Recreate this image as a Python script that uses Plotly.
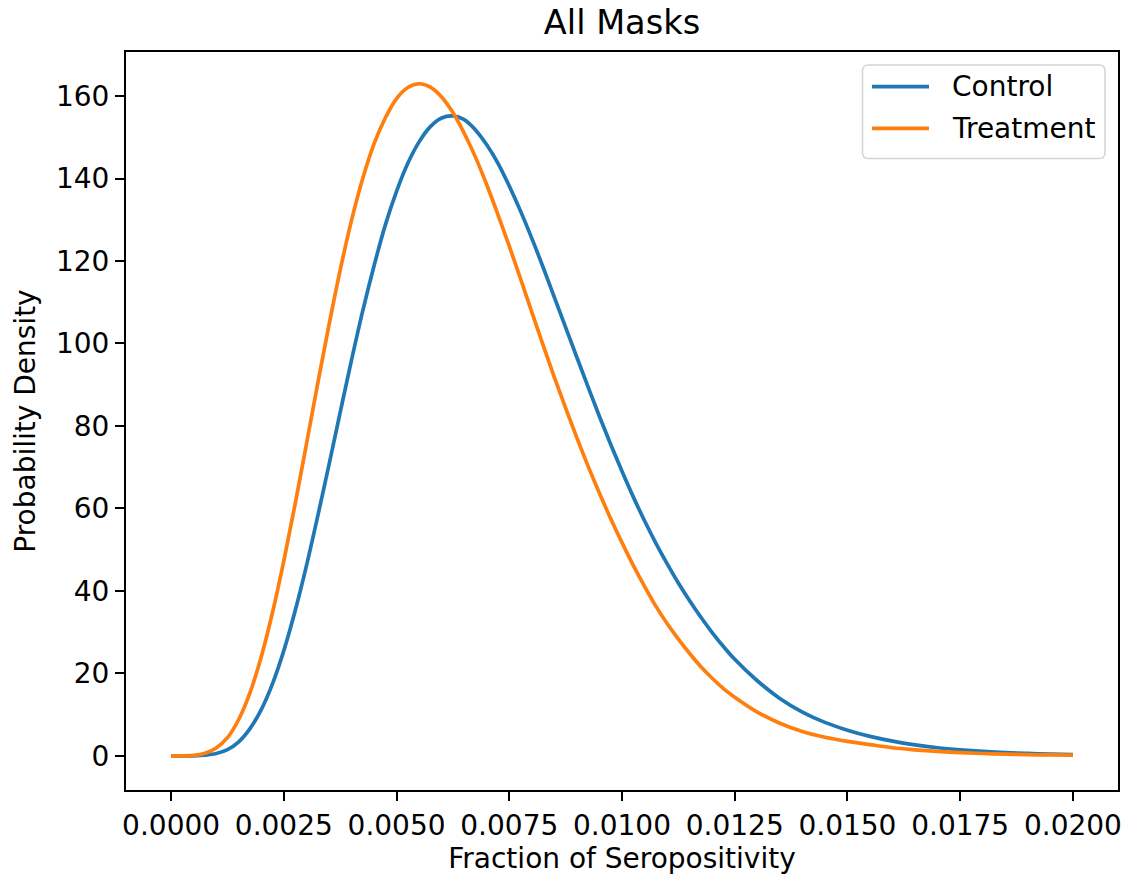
import plotly.graph_objects as go

# Fraction of seropositivity: fine steps through the bulk, coarser in the tail
fraction = [
    0.0, 0.0005, 0.00075, 0.001, 0.00125, 0.0015, 0.00175, 0.002, 0.00225,
    0.0025, 0.00275, 0.003, 0.00325, 0.0035, 0.00375, 0.004, 0.00425,
    0.0045, 0.00475, 0.005, 0.00525, 0.0055, 0.00575, 0.006, 0.00625,
    0.0065, 0.00675, 0.007, 0.00725, 0.0075, 0.00775, 0.008, 0.00825,
    0.0085, 0.00875, 0.009, 0.00925, 0.0095, 0.00975, 0.01, 0.01025,
    0.0105, 0.01075, 0.011, 0.01125, 0.0115, 0.01175, 0.012, 0.01225,
    0.0125, 0.013, 0.0135, 0.014, 0.0145, 0.015, 0.0155, 0.016, 0.0165,
    0.017, 0.0175, 0.018, 0.0185, 0.019, 0.0195, 0.02,
]

# Posterior probability density, control arm
control_density = [
    0.0, 0.0, 0.15, 0.55, 1.5, 3.4, 6.6, 11.2, 17.5,
    25.5, 35.1, 46.0, 58.0, 70.5, 83.3, 95.9, 107.9,
    118.8, 128.7, 136.9, 143.7, 148.9, 152.6, 154.7, 155.2,
    154.3, 151.8, 148.2, 143.7, 138.2, 132.1, 125.5, 118.5,
    111.2, 103.9, 96.6, 89.4, 82.3, 75.5, 69.0, 62.8,
    57.0, 51.6, 46.6, 41.9, 37.6, 33.6, 29.9, 26.5,
    23.4, 18.2, 13.9, 10.6, 8.1, 6.2, 4.7, 3.55, 2.65,
    1.95, 1.45, 1.07, 0.78, 0.57, 0.42, 0.3,
]

# Posterior probability density, treatment arm
treatment_density = [
    0.0, 0.1, 0.6, 1.9, 4.4, 8.8, 15.3, 24.0, 34.8,
    47.3, 61.0, 75.5, 90.2, 104.4, 117.8, 129.8, 140.0,
    148.4, 154.7, 159.4, 162.1, 163.0, 162.2, 159.8, 156.0,
    151.0, 145.2, 138.5, 131.2, 123.6, 115.7, 107.6, 99.6,
    91.8, 84.3, 77.1, 70.2, 63.7, 57.5, 51.7, 46.2,
    41.1, 36.3, 32.1, 28.3, 24.8, 21.6, 18.8, 16.3,
    14.2, 10.6, 7.9, 5.9, 4.5, 3.5, 2.7, 1.95, 1.45,
    1.05, 0.75, 0.55, 0.4, 0.28, 0.2, 0.14,
]

series_names = ["Control", "Treatment"]
series_colors = ["#1f77b4", "#ff7f0e"]

x_tick_vals = [0.0, 0.0025, 0.005, 0.0075, 0.01, 0.0125, 0.015, 0.0175, 0.02]
x_tick_text = ["0.0000", "0.0025", "0.0050", "0.0075", "0.0100",
               "0.0125", "0.0150", "0.0175", "0.0200"]
y_tick_vals = [0, 20, 40, 60, 80, 100, 120, 140, 160]

# Page and plot-area geometry (pixels)
W, H = 1125, 878
ML, MR, MT, MB = 126, 7, 52, 88
FONT = "DejaVu Sans"
TXT = 28


def px_x(px):
    return (px - ML) / (W - ML - MR)


def px_y(py):
    return (H - MB - py) / (H - MT - MB)


fig = go.Figure()
for name, color, ys in zip(series_names, series_colors,
                           [control_density, treatment_density]):
    fig.add_trace(go.Scatter(
        x=fraction, y=ys, mode="lines", name=name,
        line=dict(color=color, width=3.7, shape="spline", smoothing=1.0),
        showlegend=False,
    ))

axis_common = dict(
    showline=True, linecolor="black", linewidth=2, mirror=True,
    ticks="outside", ticklen=9, tickwidth=2, tickcolor="black",
    showgrid=False, zeroline=False,
    tickfont=dict(family=FONT, size=TXT, color="black"),
    automargin=False,
)

fig.update_xaxes(
    range=[-0.001, 0.021], tickvals=x_tick_vals, ticktext=x_tick_text,
    title=dict(text="Fraction of Seropositivity",
               font=dict(family=FONT, size=TXT, color="black"), standoff=8),
    **axis_common,
)
fig.update_yaxes(
    range=[-8.3, 170.7], tickvals=y_tick_vals,
    title=dict(text="Probability Density",
               font=dict(family=FONT, size=TXT, color="black"), standoff=12),
    **axis_common,
)

# Legend: rounded frame, line samples and labels
lx0, lx1, ly0, ly1, rad = 862.5, 1105.0, 65.0, 158.5, 6.0
frame_path = (
    f"M {px_x(lx0 + rad)},{px_y(ly0)} L {px_x(lx1 - rad)},{px_y(ly0)} "
    f"Q {px_x(lx1)},{px_y(ly0)} {px_x(lx1)},{px_y(ly0 + rad)} "
    f"L {px_x(lx1)},{px_y(ly1 - rad)} "
    f"Q {px_x(lx1)},{px_y(ly1)} {px_x(lx1 - rad)},{px_y(ly1)} "
    f"L {px_x(lx0 + rad)},{px_y(ly1)} "
    f"Q {px_x(lx0)},{px_y(ly1)} {px_x(lx0)},{px_y(ly1 - rad)} "
    f"L {px_x(lx0)},{px_y(ly0 + rad)} "
    f"Q {px_x(lx0)},{px_y(ly0)} {px_x(lx0 + rad)},{px_y(ly0)} Z"
)
shapes = [dict(type="path", xref="paper", yref="paper", path=frame_path,
               line=dict(color="#d4d4d4", width=1.5),
               fillcolor="rgba(255,255,255,0.85)", layer="above")]
annotations = []
entry_rows = [86.7, 128.3]
for name, color, row in zip(series_names, series_colors, entry_rows):
    shapes.append(dict(type="line", xref="paper", yref="paper",
                       x0=px_x(872), x1=px_x(929), y0=px_y(row), y1=px_y(row),
                       line=dict(color=color, width=3.7), layer="above"))
    annotations.append(dict(
        xref="paper", yref="paper", x=px_x(950), y=px_y(row),
        xanchor="left", yanchor="middle", showarrow=False, text=name,
        font=dict(family=FONT, size=TXT, color="black"),
    ))

fig.update_layout(
    width=W, height=H,
    margin=dict(l=ML, r=MR, t=MT, b=MB, pad=0),
    paper_bgcolor="white", plot_bgcolor="white",
    title=dict(text="All Masks", x=px_x(622), xref="paper",
               y=1 - 22 / H, yref="container",
               xanchor="center", yanchor="middle",
               font=dict(family=FONT, size=33.6, color="black")),
    shapes=shapes, annotations=annotations,
    showlegend=False,
)

fig.write_html("out.html")
